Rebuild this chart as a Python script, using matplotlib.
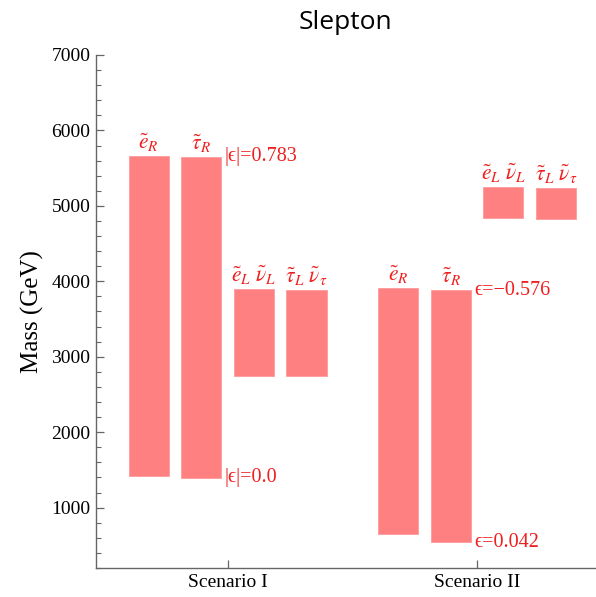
import matplotlib
matplotlib.use("Agg")
import matplotlib.pyplot as plt
from matplotlib.ticker import MultipleLocator, FixedLocator

plt.rcParams['mathtext.fontset'] = 'stix'

# ---- data ----
scenarios = ["Scenario I", "Scenario II"]
particles = [r"$\tilde{e}_R$", r"$\tilde{\tau}_R$",
             r"$\tilde{e}_L\ \tilde{\nu}_L$", r"$\tilde{\tau}_L\ \tilde{\nu}_\tau$"]
# mass ranges (GeV): lower and upper for each particle, per scenario
s1_low = [1413, 1396, 2750, 2746]
s1_high = [5663, 5650, 3897, 3883]
s2_low = [652, 542, 4845, 4831]
s2_high = [3906, 3883, 5251, 5238]
eps_labels_s1 = ["|ϵ|=0.783", "|ϵ|=0.0"]
eps_labels_s2 = ["ϵ=−0.576", "ϵ=0.042"]
y_ticks = [1000, 2000, 3000, 4000, 5000, 6000, 7000]

bar_color = "#ff8080"
txt_color = "#f01e1e"
axis_color = "#666666"

fig = plt.figure(figsize=(5.96, 5.97), dpi=100)
ax = fig.add_axes([0.161, 0.0486, 0.839, 0.8593])

group_offsets = [0.0, 4.74]
width = 0.76
serif = ["Liberation Serif", "DejaVu Serif"]

for g, (lows, highs, eps) in enumerate([(s1_low, s1_high, eps_labels_s1),
                                        (s2_low, s2_high, eps_labels_s2)]):
    xs = [group_offsets[g] + i for i in range(len(lows))]
    heights = [h - l for l, h in zip(lows, highs)]
    ax.bar(xs, heights, bottom=lows, width=width, color=bar_color,
           edgecolor="#ff9a9a", linewidth=0.6)
    for x, h, lab in zip(xs, highs, particles):
        ax.text(x, h + 30, lab, ha="center", va="bottom", fontsize=15.5,
                color=txt_color)
    # epsilon annotations on the tau_R bar
    xr = xs[1] + width / 2 + 0.06
    ax.text(xr, highs[1], eps[0], ha="left", va="center", fontsize=14.5,
            color=txt_color, family=serif)
    ax.text(xr, lows[1], eps[1], ha="left", va="center", fontsize=14.5,
            color=txt_color, family=serif)

ax.set_xlim(-1.0, 8.5)
ax.set_ylim(200, 7000)

ax.xaxis.set_major_locator(FixedLocator([group_offsets[0] + 1.5, group_offsets[1] + 1.5]))
ax.set_xticklabels(scenarios, family=serif, fontsize=14)
ax.yaxis.set_major_locator(FixedLocator(y_ticks))
ax.set_yticklabels([str(v) for v in y_ticks], family=serif, fontsize=14)
ax.yaxis.set_minor_locator(MultipleLocator(200))

ax.tick_params(axis="both", which="major", direction="in", length=6,
               width=0.9, color=axis_color, pad=4)
ax.tick_params(axis="y", which="minor", direction="in", length=3.5,
               width=0.8, color=axis_color)
ax.tick_params(axis="x", which="minor", length=0)

for s in ["top", "right"]:
    ax.spines[s].set_visible(False)
for s in ["left", "bottom"]:
    ax.spines[s].set_color(axis_color)
    ax.spines[s].set_linewidth(1.0)

ax.set_ylabel("Mass (GeV)", family=serif, fontsize=18, labelpad=5)
fig.text(0.58, 0.963, "Slepton", ha="center", va="center", fontsize=19,
         family=["Open Sans", "DejaVu Sans"])

fig.savefig("out.png", dpi=100)
